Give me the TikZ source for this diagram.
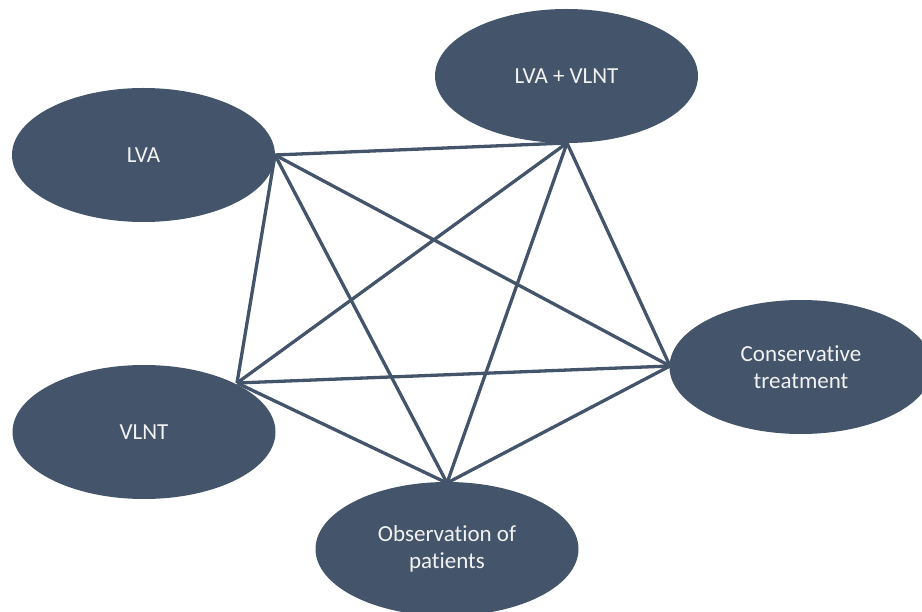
\documentclass[tikz,border=0pt]{standalone}
\usepackage{fontspec}
\setmainfont{Carlito}[Ligatures=CommonOff]
\usetikzlibrary{shapes.geometric}
\definecolor{slate}{HTML}{44546A}
\begin{document}
\begin{tikzpicture}[x=1pt,y=-1pt,
  oval/.style={ellipse,fill=slate,draw=none,minimum width=263pt,minimum height=134pt,inner sep=0pt,
    text=white!95!black,font=\fontsize{23}{27}\selectfont,align=center},
  link/.style={draw=slate,line width=3.3pt}]
\useasboundingbox (0,0) rectangle (922,612);
\clip (0,0) rectangle (922,612);
\node[oval] (lva) at (143.5,155) {LVA};
\node[oval] (both) at (566.5,76) {LVA + VLNT};
\node[oval] (cons) at (801,367) {Conservative\\treatment};
\node[oval] (vlnt) at (144,432) {VLNT};
\node[oval] (obs) at (447,549) {Observation of\\patients};
\coordinate (pl) at (275,155);
\coordinate (pb) at (567,143);
\coordinate (pc) at (670,366);
\coordinate (pv) at (237,383);
\coordinate (po) at (447,483);
\draw[link] (pl) -- (pb);
\draw[link] (pl) -- (pc);
\draw[link] (pl) -- (pv);
\draw[link] (pl) -- (po);
\draw[link] (pb) -- (pc);
\draw[link] (pb) -- (pv);
\draw[link] (pb) -- (po);
\draw[link] (pc) -- (pv);
\draw[link] (pc) -- (po);
\draw[link] (pv) -- (po);
\end{tikzpicture}
\end{document}
